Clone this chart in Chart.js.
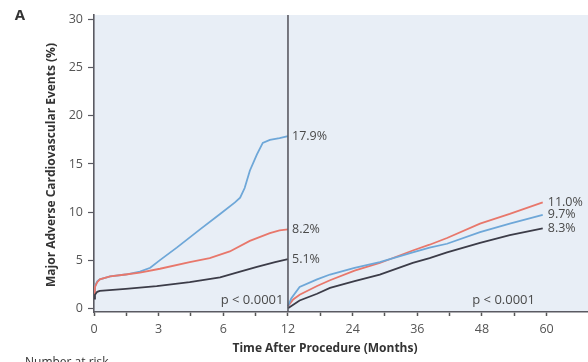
<!DOCTYPE html>
<html>
<head>
<meta charset="utf-8">
<script src="https://cdn.jsdelivr.net/npm/chart.js@4.4.1/dist/chart.umd.min.js"></script>
<style>
  body { margin: 0; background: #fff; }
  #wrap { width: 588px; height: 362px; }
</style>
</head>
<body>
<div id="wrap"><canvas id="myChart" width="588" height="362"></canvas></div>
<script>
// x positions are axis positions: one unit per labelled tick (0,3,6,12,24,36,48,60)
const tickLabels = ['0', '3', '6', '12', '24', '36', '48', '60'];
const yTicks = [0, 5, 10, 15, 20, 25, 30];

// [axis position, MACE %]
const blueYear1 = [[0,1.5],[0.015,2.3],[0.05,2.8],[0.09,3.0],[0.25,3.3],[0.49,3.5],[0.71,3.8],[0.87,4.2],[1.02,5.0],[1.28,6.3],[1.64,8.2],[1.95,9.8],[2.18,11.0],[2.26,11.5],[2.33,12.5],[2.41,14.3],[2.52,16.0],[2.61,17.2],[2.72,17.5],[2.87,17.7],[3.0,17.9]];
const redYear1 = [[0,1.5],[0.015,2.2],[0.05,2.7],[0.09,3.0],[0.25,3.3],[0.49,3.5],[0.71,3.7],[1.02,4.1],[1.48,4.8],[1.79,5.2],[2.1,5.9],[2.41,7.0],[2.72,7.8],[2.87,8.1],[3.0,8.2]];
const blackYear1 = [[0,1.0],[0.015,1.4],[0.05,1.7],[0.09,1.8],[0.49,2.0],[0.97,2.3],[1.48,2.7],[1.95,3.2],[2.26,3.8],[2.52,4.3],[2.8,4.8],[3.0,5.1]];

const blueLater = [[3.0,0.2],[3.05,1.0],[3.18,2.2],[3.45,3.0],[3.65,3.5],[4.03,4.2],[4.42,4.8],[4.93,5.8],[5.19,6.3],[5.46,6.7],[5.97,7.9],[6.43,8.8],[6.94,9.7]];
const redLater = [[3.0,0.2],[3.08,0.9],[3.18,1.4],[3.45,2.3],[3.65,2.9],[4.03,3.9],[4.42,4.7],[4.93,6.0],[5.19,6.6],[5.46,7.3],[5.97,8.8],[6.43,9.8],[6.94,11.0]];
const blackLater = [[3.0,0.0],[3.18,0.8],[3.45,1.5],[3.65,2.1],[4.03,2.8],[4.42,3.5],[4.93,4.7],[5.19,5.2],[5.46,5.8],[5.97,6.8],[6.43,7.6],[6.94,8.3]];

const year1Labels = ['17.9%', '8.2%', '5.1%'];
const laterLabels = ['11.0%', '9.7%', '8.3%'];

const BLUE = '#6ea7d8';
const RED = '#e8776b';
const BLACK = '#3c3c48';
const FONT = '"Open Sans", "DejaVu Sans", sans-serif';

const toPts = (arr) => arr.map(p => ({ x: p[0], y: p[1] }));
const line = (arr, color) => ({
  data: toPts(arr),
  borderColor: color,
  borderWidth: 1.8,
  pointRadius: 0,
  tension: 0,
  fill: false
});

const decor = {
  id: 'decor',
  beforeDraw(chart) {
    const { ctx, chartArea: a } = chart;
    ctx.save();
    ctx.fillStyle = '#e8eef6';
    ctx.fillRect(a.left, a.top, a.right - a.left, a.bottom - a.top);
    ctx.restore();
  },
  afterDatasetsDraw(chart) {
    const { ctx, chartArea: a, scales } = chart;
    const xs = scales.x, ys = scales.y;
    ctx.save();
    // landmark line at 12 months
    ctx.strokeStyle = '#5a5a62';
    ctx.lineWidth = 1.6;
    ctx.beginPath();
    ctx.moveTo(xs.getPixelForValue(3), a.top);
    ctx.lineTo(xs.getPixelForValue(3), a.bottom);
    ctx.stroke();

    ctx.fillStyle = '#4a4a4a';
    ctx.font = '12.5px ' + FONT;
    ctx.textBaseline = 'middle';
    ctx.textAlign = 'left';
    [blueYear1, redYear1, blackYear1].forEach((arr, i) => {
      const last = arr[arr.length - 1];
      ctx.fillText(year1Labels[i], xs.getPixelForValue(3) + 4, ys.getPixelForValue(last[1]));
    });
    [redLater, blueLater, blackLater].forEach((arr, i) => {
      const last = arr[arr.length - 1];
      ctx.fillText(laterLabels[i], xs.getPixelForValue(last[0]) + 5, ys.getPixelForValue(last[1]));
    });

    ctx.font = '13px ' + FONT;
    ctx.textAlign = 'right';
    ctx.fillText('p < 0.0001', xs.getPixelForValue(2.93), ys.getPixelForValue(0.85));
    ctx.fillText('p < 0.0001', xs.getPixelForValue(6.82), ys.getPixelForValue(0.85));

    // axis titles and panel letter
    ctx.fillStyle = '#333';
    ctx.font = 'bold 12px ' + FONT;
    ctx.textAlign = 'center';
    ctx.fillText('Time After Procedure (Months)', 325, 349);
    ctx.save();
    ctx.translate(52, 165);
    ctx.rotate(-Math.PI / 2);
    ctx.fillText('Major Adverse Cardiovascular Events (%)', 0, 0);
    ctx.restore();

    ctx.font = 'bold 15px ' + FONT;
    ctx.fillText('A', 20, 16);

    ctx.font = '12px ' + FONT;
    ctx.textAlign = 'left';
    ctx.textBaseline = 'top';
    ctx.fillText('Number at risk', 25, 357);
    ctx.restore();
  }
};

new Chart(document.getElementById('myChart'), {
  type: 'line',
  data: {
    datasets: [
      line(blackYear1, BLACK),
      line(redYear1, RED),
      line(blueYear1, BLUE),
      line(blackLater, BLACK),
      line(blueLater, BLUE),
      line(redLater, RED)
    ]
  },
  options: {
    responsive: false,
    animation: false,
    devicePixelRatio: 1,
    layout: { padding: { top: 15, right: 0, left: 0, bottom: 0 } },
    plugins: { legend: { display: false }, tooltip: { enabled: false } },
    scales: {
      x: {
        type: 'linear',
        min: 0,
        max: 7.64,
        afterBuildTicks: (s) => {
          const t = [];
          for (let v = 0; v <= 7; v += 0.5) t.push({ value: v });
          s.ticks = t;
        },
        afterFit: (s) => { s.height = 50; },
        ticks: {
          autoSkip: false,
          maxRotation: 0,
          padding: 6,
          color: '#555',
          font: { family: FONT, size: 12.5 },
          callback: (v) => Number.isInteger(v) ? tickLabels[v] : ''
        },
        grid: { drawOnChartArea: false, drawTicks: true, tickLength: 4, tickColor: '#555', tickWidth: 1.5 },
        border: { display: true, color: '#5a5a62', width: 1.6 }
      },
      y: {
        type: 'linear',
        min: -0.4,
        max: 30.5,
        afterBuildTicks: (s) => { s.ticks = yTicks.map(v => ({ value: v })); },
        afterFit: (s) => { s.width = 94; },
        ticks: {
          padding: 5,
          color: '#555',
          font: { family: FONT, size: 12.5 }
        },
        grid: { drawOnChartArea: false, drawTicks: true, tickLength: 6, tickColor: '#5a5a62', tickWidth: 1.2 },
        border: { display: true, color: '#5a5a62', width: 1.6 }
      }
    }
  },
  plugins: [decor]
});
</script>
</body>
</html>
